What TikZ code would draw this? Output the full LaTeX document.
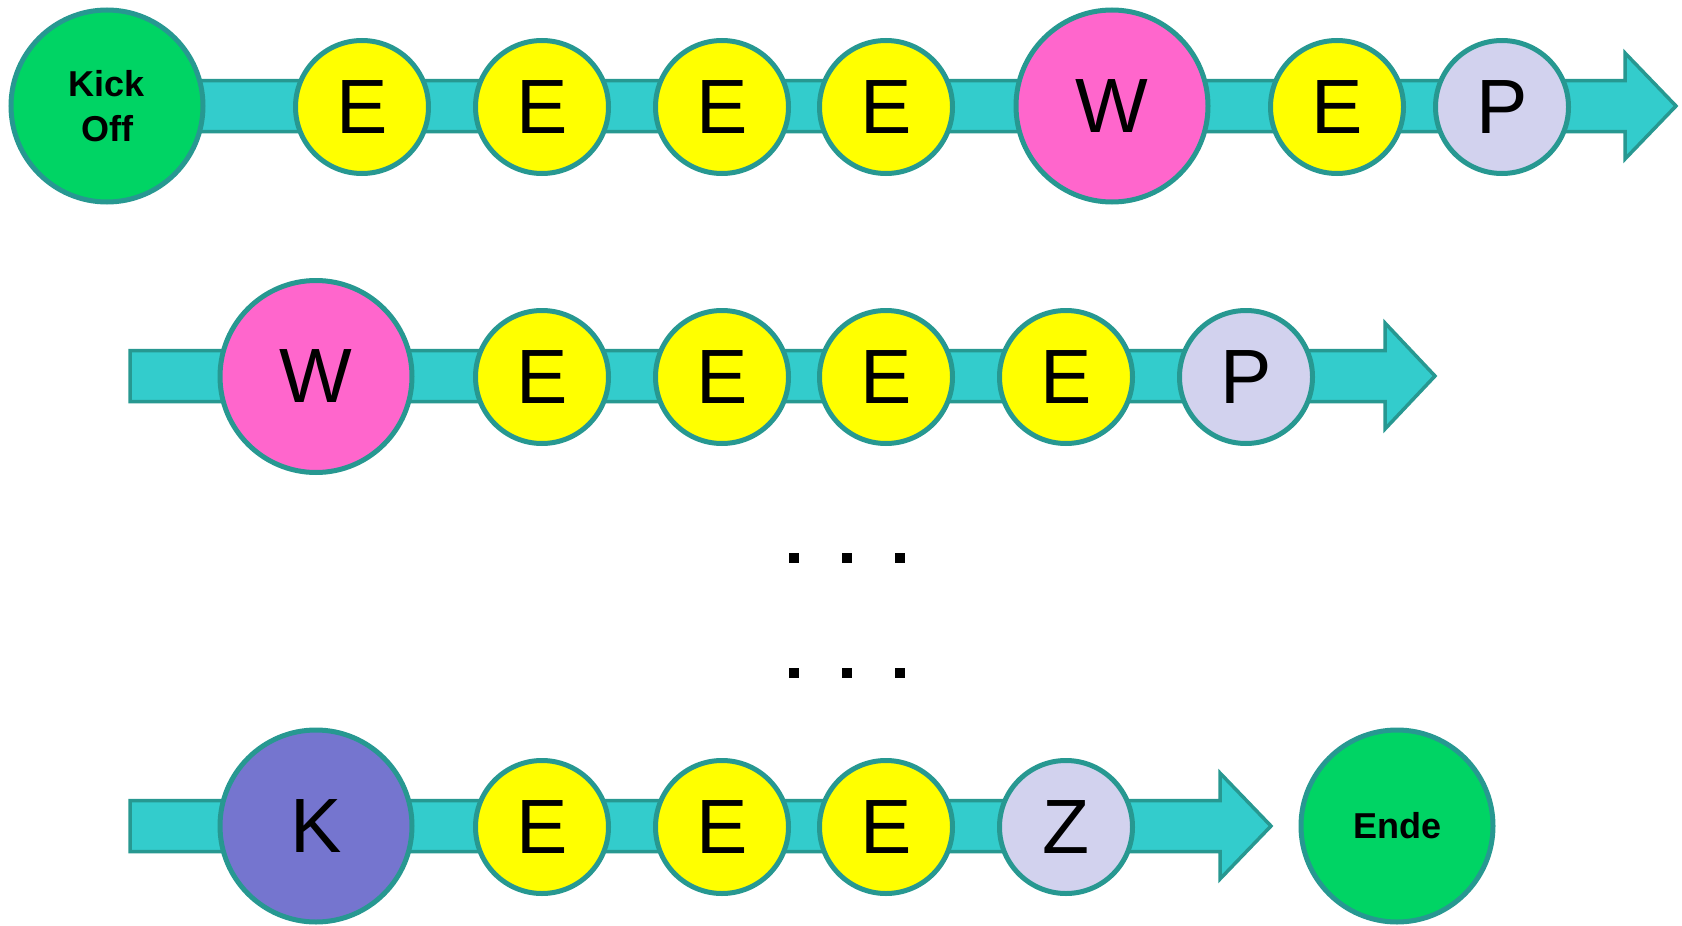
\documentclass[tikz,border=0pt]{standalone}
\usepackage{fontspec}
\setmainfont{Liberation Sans}
\definecolor{tealline}{HTML}{279891}
\definecolor{barfill}{HTML}{33CCCC}
\definecolor{kgreen}{HTML}{00D464}
\definecolor{eyellow}{HTML}{FFFF00}
\definecolor{wpink}{HTML}{FF66CC}
\definecolor{plav}{HTML}{D2D2EE}
\definecolor{kpurple}{HTML}{7575CF}
\begin{document}
\begin{tikzpicture}[x=1pt,y=-1pt,
  bubble/.style={circle,draw=tealline,line width=5pt,inner sep=0pt},
  small/.style={bubble,minimum size=133pt,font=\fontsize{77}{80}\selectfont},
  big/.style={bubble,minimum size=192pt,font=\fontsize{77}{80}\selectfont},
  bigbold/.style={bubble,minimum size=192pt,font=\fontsize{36}{45}\selectfont\bfseries,align=center},
  bar/.style={draw=tealline,fill=barfill,line width=3.5pt,line join=miter},
  dot/.style={fill=black}]
\useasboundingbox (0,0) rectangle (1682,926);
% arrow shapes
\coordinate (s1) at (107,106);
\coordinate (t1) at (1676,106);
\draw[bar] (107,80.5) -- (1625,80.5) -- (1625,53) -- (1676,106) -- (1625,159) -- (1625,131.5) -- (107,131.5) -- cycle;
\coordinate (s2) at (130,376);
\coordinate (t2) at (1435,376);
\draw[bar] (130,350.5) -- (1385,350.5) -- (1385,323) -- (1435,376) -- (1385,429) -- (1385,401.5) -- (130,401.5) -- cycle;
\coordinate (s4) at (130,826);
\coordinate (t4) at (1271,826);
\draw[bar] (130,800.5) -- (1220,800.5) -- (1220,773) -- (1271,826) -- (1220,879) -- (1220,851.5) -- (130,851.5) -- cycle;
% row 1
\node[bigbold,fill=kgreen] (ko) at (107,106) {Kick\\Off};
\node[small,fill=eyellow] (a1) at (362,107) {E};
\node[small,fill=eyellow] (a2) at (542,107) {E};
\node[small,fill=eyellow] (a3) at (722,107) {E};
\node[small,fill=eyellow] (a4) at (886,107) {E};
\node[big,fill=wpink] (a5) at (1112,106) {W};
\node[small,fill=eyellow] (a6) at (1337,107) {E};
\node[small,fill=plav] (a7) at (1502,107) {P};
% row 2
\node[big,fill=wpink] (b1) at (316,376.5) {W};
\node[small,fill=eyellow] (b2) at (542,377) {E};
\node[small,fill=eyellow] (b3) at (722,377) {E};
\node[small,fill=eyellow] (b4) at (886,377) {E};
\node[small,fill=eyellow] (b5) at (1066,377) {E};
\node[small,fill=plav] (b6) at (1246,377) {P};
% dots
\foreach \x in {794,847,900}{
  \fill[dot] (\x-5,553) rectangle (\x+5,563);
  \fill[dot] (\x-5,668) rectangle (\x+5,678);
}
% row 4
\node[big,fill=kpurple] (c1) at (316,826) {K};
\node[small,fill=eyellow] (c2) at (542,827) {E};
\node[small,fill=eyellow] (c3) at (722,827) {E};
\node[small,fill=eyellow] (c4) at (886,827) {E};
\node[small,fill=plav] (c5) at (1066,827) {Z};
\node[bigbold,fill=kgreen] (ende) at (1397,826) {Ende};
\end{tikzpicture}
\end{document}
